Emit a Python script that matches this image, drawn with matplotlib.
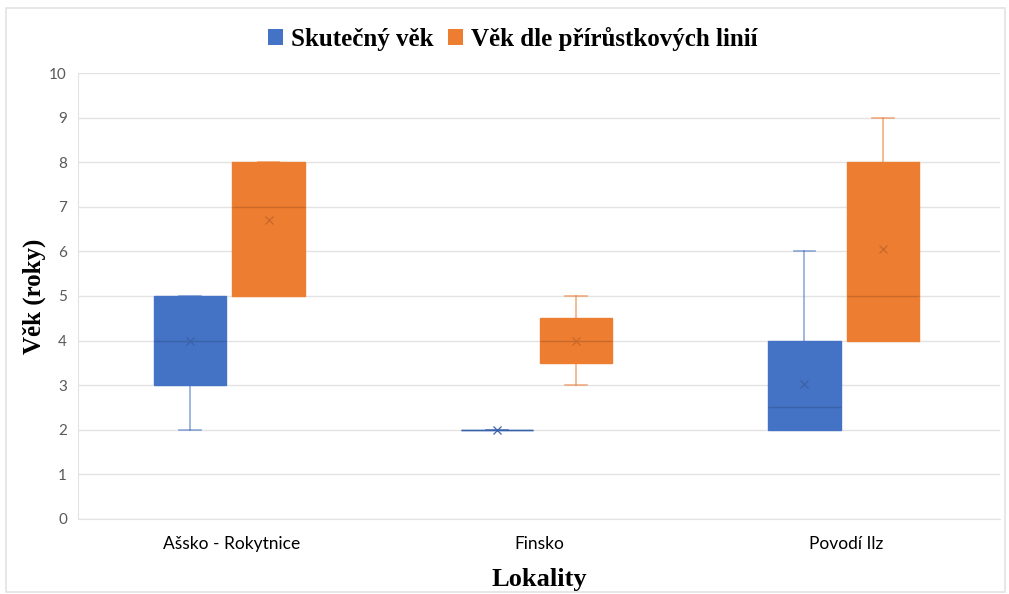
import matplotlib.pyplot as plt
from matplotlib.patches import Rectangle

# Data
lokality = ['Ašsko - Rokytnice', 'Finsko', 'Povodí Ilz']
series = ['Skutečný věk', 'Věk dle přírůstkových linií']

# Skutečný věk
real_q1 = [3, 2, 2]
real_med = [4, 2, 2.5]
real_q3 = [5, 2, 4]
real_lo = [2, 2, 2]
real_hi = [5, 2, 6]
real_mean = [4, 2, 3.03]

# Věk dle přírůstkových linií
inc_q1 = [5, 3.5, 4]
inc_med = [7, 4, 5]
inc_q3 = [8, 4.5, 8]
inc_lo = [5, 3, 4]
inc_hi = [8, 5, 9]
inc_mean = [6.7, 4, 6.05]

colors = ['#4472C4', '#ED7D31']
dark = ['#3B62A9', '#C8692A']
serif = 'Liberation Serif'
sans = 'Lato'

fig = plt.figure(figsize=(10.09, 5.94), dpi=100)
ax = fig.add_axes([0.0773, 0.1263, 0.9137, 0.7508])

# light border around the whole chart area
fig.patches.append(Rectangle((0.006, 0.004), 0.99, 0.982, transform=fig.transFigure,
                             fill=False, edgecolor='#e3e3e3', linewidth=1.2))

offset = 0.128
width = 0.235

all_series = [
    (real_q1, real_med, real_q3, real_lo, real_hi, real_mean),
    (inc_q1, inc_med, inc_q3, inc_lo, inc_hi, inc_mean),
]

for s, (q1, med, q3, lo, hi, mean) in enumerate(all_series):
    stats = []
    for i in range(len(lokality)):
        stats.append({'q1': q1[i], 'med': med[i], 'q3': q3[i],
                      'whislo': lo[i], 'whishi': hi[i], 'mean': mean[i], 'fliers': []})
    pos = [i + (2 * s - 1) * offset - 0.008 for i in range(len(lokality))]
    ax.bxp(stats, positions=pos, widths=width, capwidths=0.07, patch_artist=True,
           showmeans=True, manage_ticks=False,
           boxprops=dict(facecolor=colors[s], edgecolor=colors[s], linewidth=1),
           medianprops=dict(color=dark[s], linewidth=1),
           whiskerprops=dict(color=colors[s], alpha=0.6, linewidth=1.2),
           capprops=dict(color=colors[s], alpha=0.6, linewidth=1.2),
           meanprops=dict(marker='x', markeredgecolor=dark[s], markersize=6,
                          markeredgewidth=0.9))

ax.set_xlim(-0.5, 2.5)
ax.set_ylim(0, 10)
ax.set_yticks(range(0, 11))
ax.set_xticks(range(len(lokality)))
ax.set_xticklabels(lokality)
ax.tick_params(axis='y', length=0, labelsize=11, colors='#595959', pad=8)
ax.tick_params(axis='x', length=0, labelsize=12.5, labelcolor='black', pad=12)
for lab in ax.get_xticklabels() + ax.get_yticklabels():
    lab.set_fontfamily(sans)
ax.grid(axis='y', color='#e3e3e3', linewidth=1)
ax.set_axisbelow(True)
for side in ['top', 'right']:
    ax.spines[side].set_visible(False)
ax.spines['left'].set_color('#e3e3e3')
ax.spines['bottom'].set_color('#e3e3e3')

ax.set_ylabel('Věk (roky)', fontfamily=serif, fontweight='bold', fontsize=18, labelpad=2)
ax.set_xlabel('Lokality', fontfamily=serif, fontweight='bold', fontsize=19, labelpad=12)

handles = [Rectangle((0, 0), 1, 1, facecolor=c, edgecolor='none') for c in colors]
fig.legend(handles, series, loc='center', bbox_to_anchor=(0.508, 0.935), ncol=2,
           frameon=False, handlelength=0.6, handleheight=0.6, handletextpad=0.3,
           columnspacing=0.6, prop=dict(family=serif, weight='bold', size=18))

fig.savefig('out.png', dpi=100)
